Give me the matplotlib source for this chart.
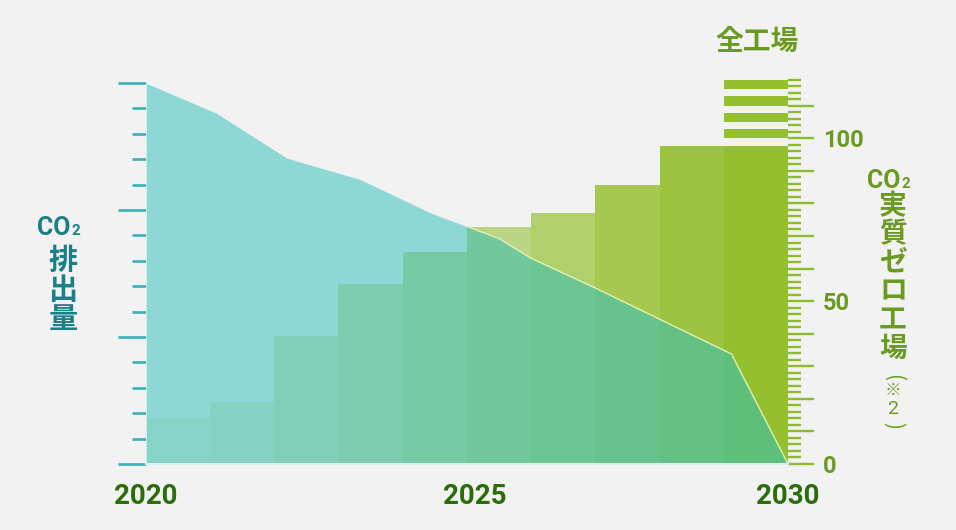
import numpy as np
import matplotlib
matplotlib.use("Agg")
import matplotlib.pyplot as plt
from matplotlib.ticker import FixedLocator, FixedFormatter, MultipleLocator, NullFormatter
from matplotlib.transforms import ScaledTranslation

# ---------------- data ----------------
years = [2020, 2021, 2022, 2023, 2024, 2025, 2026, 2027, 2028, 2029]
zero_factories = [14.0, 18.9, 39.3, 55.3, 65.2, 72.9, 77.0, 85.6, 97.6, 97.6]   # right axis
all_factories = 118      # "全工場" total (striped top of last column)

co2_years = [2020.0, 2021.1, 2022.2, 2023.33, 2024.45, 2025.0, 2025.5, 2026.0, 2027.0, 2028.0, 2029.12, 2030.0]
co2_values = [15.0, 13.81, 12.04, 11.21, 9.87, 9.35, 8.88, 8.10, 6.93, 5.70, 4.33, 0.0]    # left axis (index)

x_label_years = [2020, 2025, 2030]
x_labels = ["2020", "2025", "2030"]
right_labels = {0: "0", 50: "50", 100: "100"}

# ---------------- style ----------------
W, H = 956, 530
BG = "#f2f2f2"
TEAL_AREA = "#8dd8d6"
TEAL_TICK = "#38b2b5"
TEAL_TEXT = "#1b7f87"
GREEN_TICK = "#8cbb2c"
GREEN_TEXT = "#6a9a1f"
DARK_GREEN = "#2b6d0b"
below_colors = ["#86d3c8", "#84d2c2", "#80d0b8", "#7ccdb0", "#76cba6",
                "#71c89c", "#6cc694", "#67c38c", "#63c183", "#5ebf7a"]
above_colors = ["#c4dc98", "#c2db95", "#c0da92", "#bdd88e", "#bbd78a",
                "#b9d585", "#b0d06c", "#a6c850", "#9cc340", "#94bf2e"]
x_label_shift_px = [0, 8, 0]

CJK = ["Noto Sans CJK JP", "DejaVu Sans"]
LAT = ["Roboto", "DejaVu Sans"]

fig = plt.figure(figsize=(W / 100, H / 100), dpi=100, facecolor=BG)

px_per_unit = 3.257
x0, x1 = 145.5, 788.0
y_bottom = 464.0
top_units = 120
ax_h = top_units * px_per_unit
rect = [x0 / W, (H - y_bottom) / H, (x1 - x0) / W, ax_h / H]

ax_co2 = fig.add_axes(rect)
ax_co2.set_facecolor("none")
ax = ax_co2.twinx()
ax.set_facecolor("none")

co2_top = 15 * top_units / 117.0
ax_co2.set_ylim(0, co2_top)
ax.set_ylim(0, top_units)
for a in (ax_co2, ax):
    a.set_xlim(2020, 2030)
    for s in a.spines.values():
        s.set_visible(False)

# CO2 area
area = ax_co2.fill_between(co2_years, co2_values, 0, color=TEAL_AREA, lw=0, zorder=1)

# bars (above colour everywhere, below colour clipped to area)
ax.bar(years, zero_factories, width=1.0, align="edge", color=above_colors, lw=0, zorder=2)
bars_below = ax.bar(years, zero_factories, width=1.0, align="edge",
                    color=below_colors, lw=0, zorder=3)
clip_path = area.get_paths()[0]
for b in bars_below:
    b.set_clip_path(clip_path, ax_co2.transData)

# striped top of last column ("全工場")
stripe_starts = np.arange(100, all_factories, 5)
ax.bar([years[-1]] * len(stripe_starts), [2.9] * len(stripe_starts), bottom=stripe_starts,
       width=1.0, align="edge", color=above_colors[-1], lw=0, zorder=2)

# CO2 line where it crosses the bars
cy = np.array(co2_years)
cv = np.array(co2_values)
m = cy >= 2025
ax.plot(cy[m], cv[m], color="#e4f0b0", lw=1.0, transform=ax_co2.transData, zorder=4)
ax.plot([2020, 2020], [0, co2_values[0]], color="#d8f1ee", lw=1.2,
        transform=ax_co2.transData, zorder=4)
ax.plot([2020, 2030], [0, 0], color="#d8f1ee", lw=1.5, zorder=4, clip_on=False)

# left ticks
ax_co2.yaxis.set_major_locator(FixedLocator([0, 5, 10, 15]))
ax_co2.yaxis.set_minor_locator(MultipleLocator(1))
ax_co2.yaxis.set_major_formatter(NullFormatter())
ax_co2.tick_params(axis="y", which="major", length=20, width=1.9, color=TEAL_TICK, direction="out")
ax_co2.tick_params(axis="y", which="minor", length=10, width=1.9, color=TEAL_TICK, direction="out")

# right ticks
major_r = list(range(0, 111, 10))
ax.yaxis.set_major_locator(FixedLocator(major_r))
ax.yaxis.set_major_formatter(FixedFormatter([right_labels.get(v, "") for v in major_r]))
ax.yaxis.set_minor_locator(FixedLocator(list(range(0, all_factories + 1, 2))))
ax.tick_params(axis="y", which="major", length=19, width=1.7, color=GREEN_TICK,
               direction="out", pad=6, labelsize=17, labelcolor=GREEN_TEXT)
ax.tick_params(axis="y", which="minor", length=9, width=1.7, color=GREEN_TICK, direction="out")
for lab in ax.get_yticklabels():
    lab.set_fontfamily(LAT)
    lab.set_fontweight("bold")

# x labels
ax_co2.set_xticks([])
ax.set_xticks([])
for yr, txt, sh in zip(x_label_years, x_labels, x_label_shift_px):
    tr = ax_co2.get_xaxis_transform() + ScaledTranslation(sh / 100, -19 / 100, fig.dpi_scale_trans)
    ax_co2.text(yr, 0, txt, transform=tr, ha="center", va="top", fontsize=20,
                fontweight="bold", family=LAT, color=DARK_GREEN, clip_on=False)


def ftext(x, y, s, **kw):
    return fig.text(x / W, 1 - y / H, s, **kw)


def co2_label(xc, baseline, color):
    ftext(xc + 9, baseline, "CO", ha="right", va="baseline", fontsize=18,
          fontweight="bold", family=LAT, color=color)
    ftext(xc + 10, baseline, "2", ha="left", va="baseline", fontsize=11,
          fontweight="bold", family=LAT, color=color)


CJK_W = "bold"

# left label
co2_label(62, 235, TEAL_TEXT)
for i, ch in enumerate("排出量"):
    ftext(63, 260 + i * 29.5, ch, ha="center", va="center", fontsize=21,
          fontweight=CJK_W, family=CJK, color=TEAL_TEXT)

# right label
co2_label(891, 188, GREEN_TEXT)
for i, ch in enumerate("実質ゼロ工場"):
    ftext(893, 206 + i * 28.5, ch, ha="center", va="center", fontsize=20,
          fontweight=CJK_W, family=CJK, color=GREEN_TEXT)
ftext(893, 377, "(", ha="center", va="center", fontsize=15, rotation=-90,
      family=CJK, color=GREEN_TEXT)
ftext(893, 390, "※", ha="center", va="center", fontsize=12, family=CJK, color=GREEN_TEXT)
ftext(893, 409, "2", ha="center", va="center", fontsize=14, family=LAT, color=GREEN_TEXT)
ftext(893, 425, ")", ha="center", va="center", fontsize=15, rotation=-90,
      family=CJK, color=GREEN_TEXT)

# top label
ftext(757, 42, "全工場", ha="center", va="center", fontsize=20, fontweight=CJK_W,
      family=CJK, color=GREEN_TEXT)

fig.savefig("out.png", dpi=100, facecolor=BG)
